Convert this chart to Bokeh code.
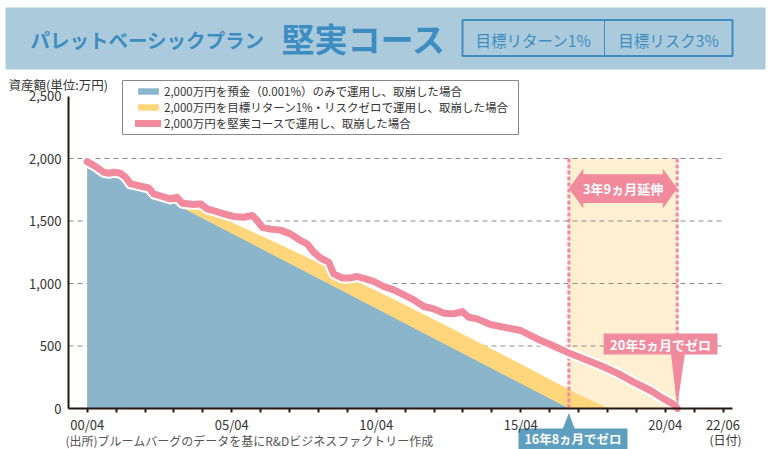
from bokeh.plotting import figure
from bokeh.models import (Range1d, FixedTicker, NumeralTickFormatter, Label, BoxAnnotation,
                          Legend, LegendItem)
from bokeh.embed import file_html
from bokeh.resources import INLINE

FONT = "Noto Sans CJK JP"

# ---------------- data (万円, years since 2000/04) ----------------
deposit_t = [0, 1, 2, 3, 4, 5, 6, 7, 8, 9, 10, 11, 12, 13, 14, 15, 16, 16.67]
deposit_v = [2000, 1880, 1760, 1640, 1520, 1400, 1280, 1160, 1040, 920, 800, 680, 560, 440, 320, 200, 80, 0]

target_t = [0, 1, 2, 3, 4, 5, 6, 7, 8, 9, 10, 11, 12, 13, 14, 15, 16, 17, 18.05]
target_v = [2000, 1900, 1800, 1698, 1595, 1490, 1384, 1276, 1166, 1055, 942, 828, 712, 595, 476, 356, 234, 112, 0]

steady_t = [0.0, 0.29, 0.57, 0.75, 0.92, 1.15, 1.33, 1.5, 1.67, 1.9, 2.13, 2.3, 2.6, 2.88, 3.11, 3.29,
            3.69, 3.92, 4.15, 4.44, 4.73, 5.07, 5.42, 5.71, 5.88, 6.06, 6.34, 6.69, 7.03, 7.38, 7.61,
            7.84, 8.07, 8.36, 8.53, 8.82, 9.11, 9.34, 9.63, 9.92, 10.26, 10.61, 10.96, 11.3, 11.65,
            11.99, 12.34, 12.68, 12.98, 13.2, 13.49, 13.96, 14.53, 15.0, 15.34, 15.69, 16.03, 16.6,
            17.18, 17.76, 18.34, 18.91, 19.49, 19.95, 20.3, 20.42]
steady_v = [1975, 1936, 1890, 1882, 1890, 1882, 1850, 1797, 1789, 1776, 1765, 1717, 1696, 1677, 1690, 1642,
            1632, 1637, 1597, 1578, 1557, 1536, 1530, 1544, 1504, 1450, 1435, 1427, 1397, 1344, 1317,
            1250, 1205, 1170, 1077, 1045, 1045, 1056, 1037, 1016, 976, 949, 909, 869, 816,
            797, 762, 757, 775, 730, 717, 672, 645, 624, 584, 544, 512, 451,
            397, 344, 283, 211, 144, 77, 32, 0]

deposit_zero = 16 + 8 / 12     # 16年8ヵ月
steady_zero = 20 + 5 / 12      # 20年5ヵ月

y_ticks = [0, 500, 1000, 1500, 2000, 2500]
grid_levels = [500, 1000, 1500, 2000]
x_ticks = list(range(0, 23))
x_tick_labels = {0: "00/04", 5: "05/04", 10: "10/04", 15: "15/04", 20: "20/04", 22: "22/06"}

legend_labels = ["2,000万円を預金（0.001%）のみで運用し、取崩した場合",
                 "2,000万円を目標リターン1%・リスクゼロで運用し、取崩した場合",
                 "2,000万円を堅実コースで運用し、取崩した場合"]

# ---------------- colours ----------------
BLUE = "#8ab5cb"
YELLOW = "#ffd67c"
PINK = "#f28a9e"
SHADE = "#fff0d2"
BAND = "#abcbdc"
TITLE_BLUE = "#3d8dc1"
BOX_BLUE = "#5e9ebf"
INK = "#333333"
AX = "#231815"

# ---------------- layout: the frame fills the canvas, axes drawn at fixed locations ----------------
W, H = 771, 449
T0_PX, SX = 86.7, 28.9        # pixel of t=0, pixels per year
V0_PY, SY = 408.0, 0.125      # pixel of 0万円, pixels per 万円
X0, X1 = -T0_PX / SX, (W - T0_PX) / SX
Y0, Y1 = -(H - V0_PY) / SY, V0_PY / SY
AXIS_X0, AXIS_X1 = (68 - T0_PX) / SX, (732 - T0_PX) / SX


def dx(px):
    return X0 + px / SX


def dy(py):
    return Y1 - py / SY


p = figure(width=W, height=H, x_range=Range1d(X0, X1), y_range=Range1d(Y0, Y1),
           output_backend="svg", toolbar_location=None, min_border=0,
           min_border_left=0, min_border_right=0, min_border_top=0, min_border_bottom=0)
p.outline_line_color = None
p.xgrid.visible = False
p.ygrid.visible = False
p.background_fill_color = "white"
p.border_fill_color = "white"

# ---------------- title band ----------------
p.quad(left=[dx(5)], right=[dx(765)], top=[dy(7)], bottom=[dy(69)], fill_color=BAND, line_color=None)
p.quad(left=[dx(462)], right=[dx(732)], top=[dy(19.5)], bottom=[dy(55.5)], fill_alpha=0,
       line_color=TITLE_BLUE, line_width=2)
p.segment(x0=[dx(604)], x1=[dx(604)], y0=[dy(19.5)], y1=[dy(55.5)], line_color=TITLE_BLUE, line_width=1)

# shaded extension period
p.quad(left=[deposit_zero], right=[steady_zero], bottom=[0], top=[2000],
       fill_color=SHADE, line_color=None)

# dashed gridlines
n = len(grid_levels)
p.segment(x0=[AXIS_X0] * n, x1=[22.0] * n, y0=grid_levels, y1=grid_levels,
          line_color="#8a8a8a", line_width=1, line_dash="5 4")

# areas
r_target = p.varea(x=target_t, y1=[0] * len(target_t), y2=target_v, fill_color=YELLOW)
r_deposit = p.varea(x=deposit_t, y1=[0] * len(deposit_t), y2=deposit_v, fill_color=BLUE)

# dashed pink verticals
p.segment(x0=[deposit_zero, steady_zero], x1=[deposit_zero, steady_zero], y0=[0, 0], y1=[2000, 2000],
          line_color=PINK, line_width=3, line_dash="4 2")

# steady course line with white halo
p.line(steady_t, steady_v, line_color="white", line_width=11, line_join="round", line_cap="round")
r_steady = p.line(steady_t, steady_v, line_color=PINK, line_width=7, line_join="round", line_cap="round")

# double arrow "3年9ヵ月延伸"
ac, hh, bh, hl = 1760, 160, 115, 0.5
axs = [deposit_zero, deposit_zero + hl, deposit_zero + hl, steady_zero - hl, steady_zero - hl, steady_zero,
       steady_zero - hl, steady_zero - hl, deposit_zero + hl, deposit_zero + hl]
ays = [ac, ac + hh, ac + bh, ac + bh, ac + hh, ac, ac - hh, ac - bh, ac - bh, ac - hh]
p.patch(axs, ays, fill_color=PINK, line_color=None)

# pink callout "20年5ヵ月でゼロ"
pb_left, pb_right, pb_top, pb_bot = 17.87, 21.81, 600, 432
p.quad(left=[pb_left], right=[pb_right], top=[pb_top], bottom=[pb_bot], fill_color=PINK, line_color=None)
p.patch([20.2, 20.68, steady_zero], [pb_bot + 5, pb_bot + 5, 16], fill_color=PINK, line_color=None)

# blue callout "16年8ヵ月でゼロ" below the axis
p.patch([dx(562), dx(574.5), deposit_zero], [dy(429), dy(429), dy(412.5)], fill_color=BOX_BLUE, line_color=None)
p.quad(left=[dx(518)], right=[dx(627)], top=[dy(428)], bottom=[dy(460)], fill_color=BOX_BLUE, line_color=None)

# ---------------- axes (at fixed data locations) ----------------
p.yaxis.fixed_location = AXIS_X0
p.yaxis.bounds = (0, 2500)
p.yaxis.ticker = FixedTicker(ticks=y_ticks)
p.yaxis.formatter = NumeralTickFormatter(format="0,0")
p.yaxis.major_tick_out = 0
p.yaxis.major_tick_in = 0
p.yaxis.minor_tick_out = 0
p.yaxis.minor_tick_in = 0
p.yaxis.major_label_standoff = 7
p.xaxis.fixed_location = 0
p.xaxis.bounds = (AXIS_X0, AXIS_X1)
p.xaxis.ticker = FixedTicker(ticks=x_ticks)
p.xaxis.major_label_overrides = {t: x_tick_labels.get(t, "") for t in x_ticks}
p.xaxis.major_tick_out = 4
p.xaxis.major_tick_in = 0
p.xaxis.minor_tick_out = 0
p.xaxis.minor_tick_in = 0
p.xaxis.major_label_standoff = 2
for ax in (p.xaxis[0], p.yaxis[0]):
    ax.axis_line_color = AX
    ax.axis_line_width = 2
    ax.major_tick_line_color = AX
    ax.major_tick_line_width = 2
    ax.major_label_text_font = FONT
    ax.major_label_text_font_size = "13px"
    ax.major_label_text_color = INK

# ---------------- texts ----------------
def label(px, py, text, size, color=INK, align="left", bold=False):
    p.add_layout(Label(x=dx(px), y=dy(py), text=text, text_font=FONT, text_font_size=size,
                       text_font_style="bold" if bold else "normal", text_color=color,
                       text_align=align, text_baseline="middle"))


label(30, 39, "パレットベーシックプラン", "19.5px", TITLE_BLUE, bold=True)
label(281, 37, "堅実コース", "33px", TITLE_BLUE, bold=True)
label(533, 39, "目標リターン1%", "15.5px", TITLE_BLUE, align="center")
label(668, 39, "目標リスク3%", "15.5px", TITLE_BLUE, align="center")

# legend
p.add_layout(BoxAnnotation(left=dx(122), right=dx(518), top=dy(80), bottom=dy(134),
                           fill_color="white", fill_alpha=1, line_color="#888888", line_alpha=1,
                           line_width=1))
legend = Legend(items=[LegendItem(label=legend_labels[0], renderers=[r_deposit]),
                       LegendItem(label=legend_labels[1], renderers=[r_target]),
                       LegendItem(label=legend_labels[2], renderers=[r_steady])],
                location=(135, H - 131), orientation="vertical",
                label_text_font=FONT, label_text_font_size="11.5px", label_text_color=INK,
                glyph_width=26, glyph_height=8, label_height=13, spacing=0, padding=4, margin=0,
                label_standoff=3, border_line_color=None, background_fill_alpha=0)
p.add_layout(legend)

label(8, 84, "資産額(単位:万円)", "12.5px")
label(65, 440, "(出所)ブルームバーグのデータを基にR&Dビジネスファクトリー作成", "12px", "#555555")
label(725, 439, "(日付)", "12px", align="center")

p.add_layout(Label(x=(deposit_zero + steady_zero) / 2, y=ac, text="3年9ヵ月延伸", text_font=FONT,
                   text_font_size="13px", text_font_style="bold", text_color="white",
                   text_align="center", text_baseline="middle"))
p.add_layout(Label(x=(pb_left + pb_right) / 2, y=(pb_top + pb_bot) / 2, text="20年5ヵ月でゼロ", text_font=FONT,
                   text_font_size="13px", text_font_style="bold", text_color="white",
                   text_align="center", text_baseline="middle"))
label(572.5, 438, "16年8ヵ月でゼロ", "12.5px", "white", align="center", bold=True)

open("out.html", "w").write(file_html(p, INLINE))
